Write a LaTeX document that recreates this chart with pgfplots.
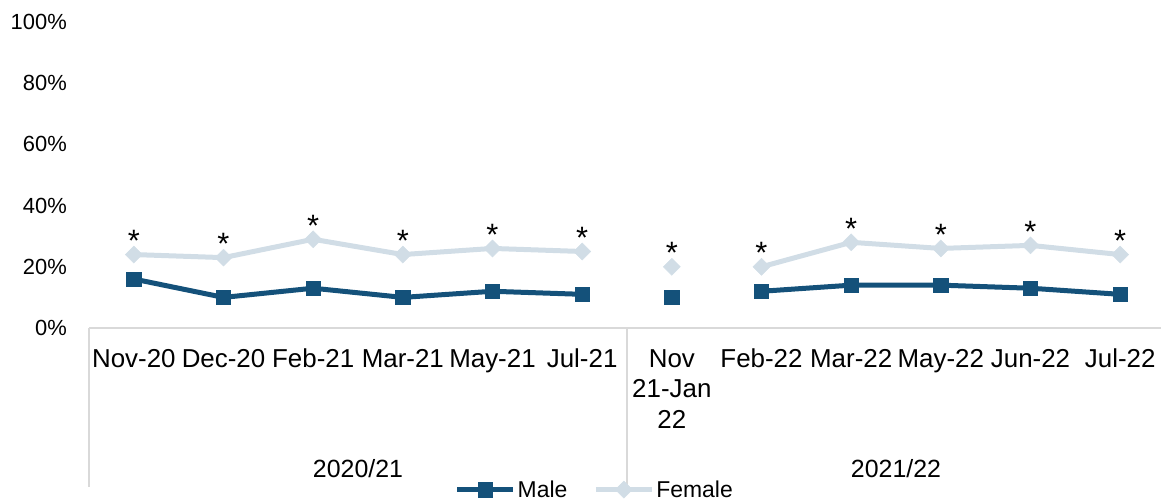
\documentclass[border=0pt]{standalone}
\usepackage{fontspec}
\setmainfont{Liberation Sans}
\usepackage{pgfplots}
\pgfplotsset{compat=1.18}
\definecolor{male}{RGB}{20,81,122}
\definecolor{female}{RGB}{209,221,230}
\definecolor{axisgray}{RGB}{217,217,217}
\begin{document}
\begin{tikzpicture}
\useasboundingbox (0,0) rectangle (1161bp,502bp);
\begin{axis}[
 at={(89bp,174bp)}, anchor=south west,
 scale only axis, width=1076bp, height=306bp,
 xmin=-0.5, xmax=11.5, ymin=0, ymax=100,
 axis x line*=bottom, axis y line*=left,
 x axis line style={draw=axisgray, line width=1.3bp},
 y axis line style={draw=none},
 xtick={0,...,11},
 xticklabels={Nov-20,Dec-20,Feb-21,Mar-21,May-21,Jul-21,Nov\\21-Jan\\22,Feb-22,Mar-22,May-22,Jun-22,Jul-22},
 xticklabel style={align=center, anchor=north, inner sep=0pt, yshift=-21bp, font=\fontsize{26}{31}\selectfont},
 ytick={0,20,40,60,80,100},
 yticklabels={0\%,20\%,40\%,60\%,80\%,100\%},
 yticklabel style={anchor=east, inner sep=0pt, xshift=-22bp, font=\fontsize{22}{26}\selectfont},
 major tick length=0pt,
 unbounded coords=jump,
 clip=false,
 legend columns=2,
 legend style={draw=none, fill=none, at={(0.47,-0.528)}, anchor=center, font=\fontsize{23}{27}\selectfont, inner sep=0pt, /tikz/every even column/.append style={column sep=24bp}},
 legend image code/.code={\draw[mark repeat=2, mark phase=2] plot coordinates {(0bp,0bp) (28bp,0bp) (56bp,0bp)};},
]
\addplot[male, line width=5bp, mark=square*, mark size=7.2bp, mark options={solid, line width=0.5bp}]
 coordinates {(0,16)(1,10)(2,13)(3,10)(4,12)(5,11)(5.5,nan)(6,10)(6.5,nan)(7,12)(8,14)(9,14)(10,13)(11,11)};
\addlegendentry{Male}
\addplot[female, line width=5bp, mark=square*, mark size=6bp, mark options={solid, rotate=45, line width=0.5bp}]
 coordinates {(0,24)(1,23)(2,29)(3,24)(4,26)(5,25)(5.5,nan)(6,20)(6.5,nan)(7,20)(8,28)(9,26)(10,27)(11,24)};
\addlegendentry{Female}
\addplot[draw=none, mark=none, forget plot, nodes near coords={*},
 every node near coord/.append style={anchor=base, inner sep=0pt, yshift=3bp, text=black, font=\fontsize{31}{34}\selectfont}]
 coordinates {(0,24)(1,23)(2,29)(3,24)(4,26)(5,25)(6,20)(7,20)(8,28)(9,26)(10,27)(11,24)};
\draw[axisgray, line width=1.3bp] (axis cs:-0.5,0) -- ([yshift=-159bp]axis cs:-0.5,0);
\draw[axisgray, line width=1.3bp] (axis cs:5.5,0) -- ([yshift=-159bp]axis cs:5.5,0);
\draw[axisgray, line width=1.3bp] (axis cs:11.5,0) -- ([yshift=-159bp]axis cs:11.5,0);
\node[font=\fontsize{25}{30}\selectfont] at (axis cs:2.5,0) [yshift=-141bp] {2020/21};
\node[font=\fontsize{25}{30}\selectfont] at (axis cs:8.5,0) [yshift=-141bp] {2021/22};
\end{axis}
\end{tikzpicture}
\end{document}
